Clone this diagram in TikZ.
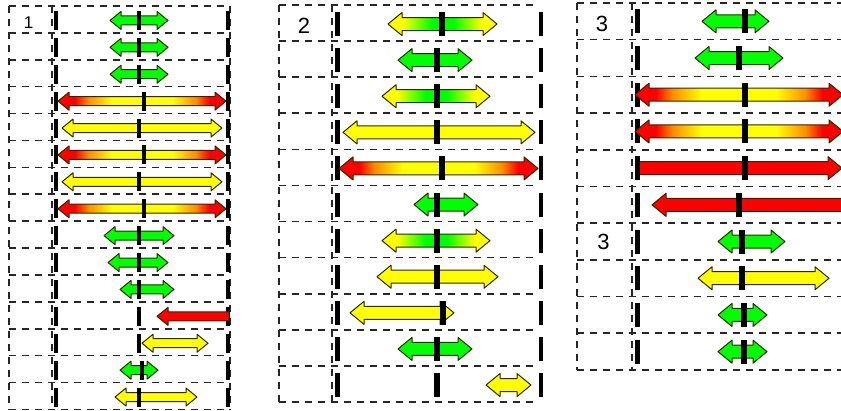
\documentclass[tikz,border=0pt]{standalone}
\usepackage{fontspec}
\setmainfont{Liberation Sans}
\definecolor{gr}{RGB}{0,255,0}
\definecolor{ye}{RGB}{255,255,0}
\definecolor{rd}{RGB}{255,0,0}
\definecolor{orng}{RGB}{255,140,0}
\definecolor{outl}{RGB}{45,40,0}
\pgfdeclarehorizontalshading{redyr}{100bp}{color(0bp)=(rd); color(25bp)=(rd); color(30bp)=(rd); color(34bp)=(orng); color(41bp)=(ye); color(59bp)=(ye); color(66bp)=(orng); color(70bp)=(rd); color(75bp)=(rd); color(100bp)=(rd)}
\pgfdeclarehorizontalshading{ygy}{100bp}{color(0bp)=(ye); color(25bp)=(ye); color(32bp)=(ye); color(45bp)=(gr); color(55bp)=(gr); color(68bp)=(ye); color(75bp)=(ye); color(100bp)=(ye)}
\tikzset{
  grid/.style={black!85, line width=1.6pt, dash pattern=on 7pt off 6pt},
  ag/.style={fill=gr, draw=outl, line width=1pt, line join=round},
  ay/.style={fill=ye, draw=outl, line width=1pt, line join=round},
  ar/.style={fill=rd, draw=outl, line width=1pt, line join=round},
  arg/.style={shading=redyr, draw=outl, line width=1pt, line join=round},
  ayg/.style={shading=ygy, draw=outl, line width=1pt, line join=round},
  lbl/.style={inner sep=0pt, text=black}
}
% double arrow: x1 x2 y style
\newcommand\DA[4]{\pgfmathsetmacro\ay{#3}\path[#4] ({#1},{\ay}) -- ({#1+\hl},{\ay-\hh}) -- ({#1+\hl},{\ay-\bh}) -- ({#2-\hl},{\ay-\bh}) -- ({#2-\hl},{\ay-\hh}) -- ({#2},{\ay}) -- ({#2-\hl},{\ay+\hh}) -- ({#2-\hl},{\ay+\bh}) -- ({#1+\hl},{\ay+\bh}) -- ({#1+\hl},{\ay+\hh}) -- cycle;}
% left-pointing arrow, flat right end
\newcommand\LA[4]{\pgfmathsetmacro\ay{#3}\path[#4] ({#1},{\ay}) -- ({#1+\hl},{\ay-\hh}) -- ({#1+\hl},{\ay-\bh}) -- ({#2},{\ay-\bh}) -- ({#2},{\ay+\bh}) -- ({#1+\hl},{\ay+\bh}) -- ({#1+\hl},{\ay+\hh}) -- cycle;}
% right-pointing arrow, flat left end
\newcommand\RA[4]{\pgfmathsetmacro\ay{#3}\path[#4] ({#1},{\ay-\bh}) -- ({#2-\hl},{\ay-\bh}) -- ({#2-\hl},{\ay-\hh}) -- ({#2},{\ay}) -- ({#2-\hl},{\ay+\hh}) -- ({#2-\hl},{\ay+\bh}) -- ({#1},{\ay+\bh}) -- cycle;}
\newcommand\TK[3]{\pgfmathsetmacro\ty{#2}\fill[black] ({#1-#3/2},{\ty-\th/2}) rectangle ({#1+#3/2},{\ty+\th/2});}
\begin{document}
\begin{tikzpicture}[x=1pt,y=-1pt]
\useasboundingbox (0,0) rectangle (841,411);
\clip (0,0) rectangle (841,411);
\fill[white] (0,0) rectangle (841,411);
% ---------------- Panel 1 ----------------
\foreach \k in {0,...,15} \draw[grid] (9,{6+\k*26.9}) -- (230,{6+\k*26.9});
\foreach \xx in {9,52,230} \draw[grid] (\xx,6) -- (\xx,409.5);
\node[lbl, font=\fontsize{17}{18}\selectfont] (l1) at (28.5,22.5) {1};
\def\bh{4.5}\def\hh{9}\def\hl{11}\def\th{19}
\foreach \k in {1,...,15}{
  \TK{56}{6+(\k-0.5)*26.9+1}{4}
  \TK{228}{6+(\k-0.5)*26.9+1}{4}
}
\def\Y#1{6+(#1-0.5)*26.9+1}
\DA{110}{168}{\Y{1}}{ag}   \TK{139}{\Y{1}}{4}
\DA{110}{168}{\Y{2}}{ag}   \TK{139}{\Y{2}}{4}
\DA{110}{168}{\Y{3}}{ag}   \TK{139}{\Y{3}}{4}
\DA{58}{226}{\Y{4}}{arg}   \TK{144}{\Y{4}}{4}
\DA{62}{222}{\Y{5}}{ay}    \TK{139}{\Y{5}}{4}
\DA{58}{226}{\Y{6}}{arg}   \TK{144}{\Y{6}}{4}
\DA{62}{222}{\Y{7}}{ay}    \TK{139}{\Y{7}}{4}
\DA{58}{226}{\Y{8}}{arg}   \TK{144}{\Y{8}}{4}
\DA{104}{174}{\Y{9}}{ag}   \TK{139}{\Y{9}}{4}
\DA{108}{168}{\Y{10}}{ag}  \TK{139}{\Y{10}}{4}
\DA{120}{174}{\Y{11}}{ag}  \TK{139}{\Y{11}}{4}
\LA{157}{229}{\Y{12}}{ar}  \TK{139}{\Y{12}}{4}
\DA{142}{208}{\Y{13}}{ay}  \TK{139}{\Y{13}}{4}
\DA{120}{158}{\Y{14}}{ag}  \TK{142}{\Y{14}}{4}
\DA{115}{197}{\Y{15}}{ay}  \TK{139}{\Y{15}}{4}
% ---------------- Panel 2 ----------------
\foreach \k in {0,...,11} \draw[grid] (279,{5+\k*36.1}) -- (539,{5+\k*36.1});
\foreach \xx in {279,332} \draw[grid] (\xx,5) -- (\xx,402);
\node[lbl, font=\fontsize{22}{24}\selectfont] (l2) at (304,26) {2};
\def\bh{6.5}\def\hh{11.5}\def\hl{14}\def\th{24}
\foreach \k in {1,...,11}{
  \TK{337}{5+(\k-0.5)*36.1+1}{5}
  \TK{541}{5+(\k-0.5)*36.1+1}{4}
}
\def\Y#1{5+(#1-0.5)*36.1+1}
\DA{388}{497}{\Y{1}}{ayg}  \TK{442}{\Y{1}}{6}
\DA{398}{472}{\Y{2}}{ag}   \TK{437}{\Y{2}}{6}
\DA{382}{490}{\Y{3}}{ayg}  \TK{437}{\Y{3}}{6}
\DA{343}{535}{\Y{4}}{ay}   \TK{437}{\Y{4}}{6}
\DA{339}{538}{\Y{5}}{arg}  \TK{442}{\Y{5}}{6}
\DA{414}{478}{\Y{6}}{ag}   \TK{437}{\Y{6}}{6}
\DA{382}{490}{\Y{7}}{ayg}  \TK{437}{\Y{7}}{6}
\DA{377}{498}{\Y{8}}{ay}   \TK{437}{\Y{8}}{6}
\DA{350}{454}{\Y{9}}{ay}   \TK{443}{\Y{9}}{6}
\DA{398}{472}{\Y{10}}{ag}  \TK{437}{\Y{10}}{6}
\DA{486}{531}{\Y{11}}{ay}  \TK{437}{\Y{11}}{6}
% ---------------- Panel 3 ----------------
\foreach \k in {0,...,10} \draw[grid] (577,{3+\k*36.7}) -- (845,{3+\k*36.7});
\foreach \xx in {577,632} \draw[grid] (\xx,3) -- (\xx,370);
\node[lbl, font=\fontsize{22}{24}\selectfont] (l3a) at (602,23.5) {3};
\node[lbl, font=\fontsize{22}{24}\selectfont] (l3b) at (603.5,242) {3};
\foreach \k in {1,...,10}{
  \TK{637}{3+(\k-0.5)*36.7}{5}
}
\def\Y#1{3+(#1-0.5)*36.7}
\DA{702}{769}{\Y{1}}{ag}   \TK{745}{\Y{1}}{6}
\DA{695}{783}{\Y{2}}{ag}   \TK{739}{\Y{2}}{6}
\DA{635}{843}{\Y{3}}{arg}  \TK{745}{\Y{3}}{6}
\DA{635}{843}{\Y{4}}{arg}  \TK{745}{\Y{4}}{6}
\RA{637}{842}{\Y{5}}{ar}   \TK{745}{\Y{5}}{6} \TK{637}{\Y{5}}{5}
\LA{652}{860}{\Y{6}}{ar}   \TK{739}{\Y{6}}{6}
\DA{718}{785}{\Y{7}}{ag}   \TK{742}{\Y{7}}{6}
\DA{698}{829}{\Y{8}}{ay}   \TK{742}{\Y{8}}{6}
\DA{718}{767}{\Y{9}}{ag}   \TK{744}{\Y{9}}{6}
\DA{718}{767}{\Y{10}}{ag}  \TK{744}{\Y{10}}{6}
\end{tikzpicture}
\end{document}
